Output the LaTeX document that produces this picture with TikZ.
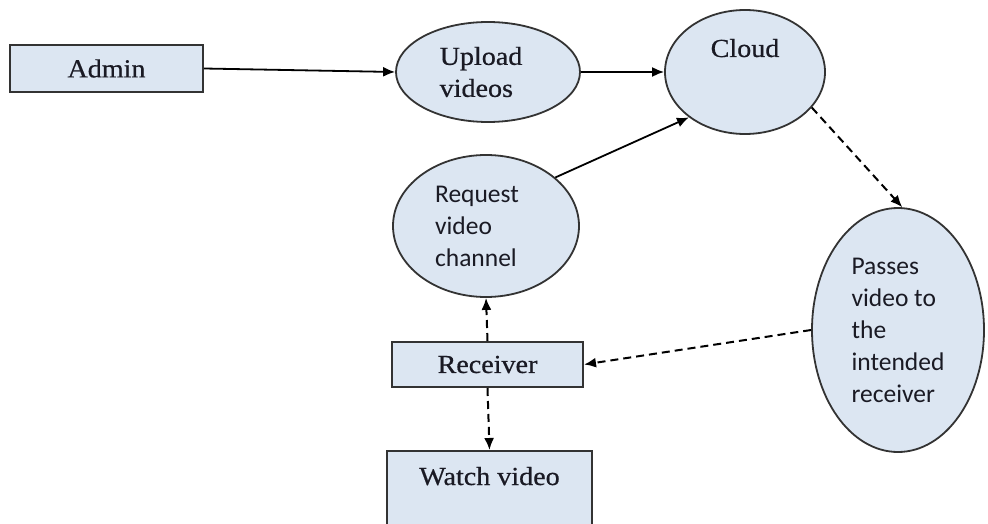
\documentclass[tikz,border=0pt]{standalone}
\usepackage{fontspec}
\usetikzlibrary{shapes.geometric,arrows.meta}
\newfontfamily\boxfont[FakeStretch=1.08,FakeBold=0.6]{Liberation Serif}
\newfontfamily\notefont{Carlito}
\definecolor{boxfill}{HTML}{DCE6F2}
\definecolor{edge}{HTML}{333333}
\definecolor{ink}{HTML}{1A1A24}
\begin{document}
\begin{tikzpicture}[x=1pt,y=-1pt,
  serifstyle/.style={font=\boxfont\fontsize{26}{32}\selectfont, text=ink},
  sansstyle/.style={font=\notefont\fontsize{25.5}{32}\selectfont, text=ink},
  procbox/.style={draw=edge, fill=boxfill, line width=2pt, inner sep=0pt, serifstyle},
  bubble/.style={ellipse, draw=edge, fill=boxfill, line width=1.8pt, inner sep=0pt, align=left},
  flow/.style={-{Latex[length=12pt,width=10pt]}, line width=1.8pt},
  pass/.style={flow, line width=2pt, dash pattern=on 8pt off 5pt},
]
\clip (0,0) rectangle (988,524);
\fill[white] (0,0) rectangle (988,524);

% process boxes
\node[procbox, minimum width=193pt, minimum height=47pt] (admin) at (106.5,68.5) {Admin};
\node[procbox, minimum width=191pt, minimum height=45pt] (receiver) at (487.5,364.5) {Receiver};
\node[procbox, anchor=north, minimum width=205pt, text height=34pt, text depth=56pt] (watch) at (489.5,450) {Watch video};

% activity bubbles (trailing space keeps the left-aligned text off-centre)
\node[bubble, serifstyle, minimum width=184pt, minimum height=100pt] (upload) at (488,72) {Upload\hspace*{14pt}\\videos};
\node[bubble, serifstyle, minimum width=160pt, minimum height=124pt, text height=20pt, text depth=50pt] (cloud) at (745,72) {Cloud};
\node[bubble, sansstyle, minimum width=186pt, minimum height=142pt] (request) at (486,226) {Request\hspace*{18pt}\\video\\channel};
\node[bubble, sansstyle, minimum width=172pt, minimum height=244pt] (passes) at (898,330) {Passes\\video to\\the\\intended\\receiver};

% connectors
\draw[flow] (admin.east) -- (upload.west);
\draw[flow] (upload.east) -- (cloud.west);
\draw[flow] (request.35) -- (cloud.219);
\draw[pass] (cloud.-28) -- (passes.88);
\draw[pass] (passes.west) -- (receiver.east);
\draw[pass] (receiver.north) -- (request.south);
\draw[pass] (receiver.south) -- (watch.north);
\end{tikzpicture}
\end{document}
